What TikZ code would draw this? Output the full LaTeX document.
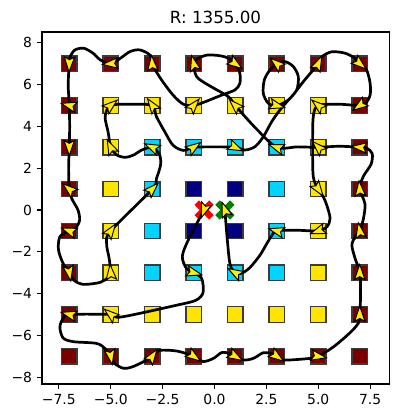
\documentclass[tikz,border=0pt]{standalone}
\usepackage{fontspec}
\setmainfont{DejaVu Sans}
\definecolor{dred}{RGB}{122,0,0}
\definecolor{syel}{RGB}{255,228,0}
\definecolor{scyan}{RGB}{0,212,255}
\definecolor{snavy}{RGB}{0,0,128}
\definecolor{sedge}{RGB}{60,60,60}
\definecolor{ayel}{RGB}{255,238,0}
\definecolor{xred}{RGB}{255,0,0}
\definecolor{xgreen}{RGB}{0,128,0}
\newcommand\yhead[3]{\begin{scope}[shift={(#1,#2)},rotate=#3]\filldraw[headst] (0.4,0) -- (-0.33,0.25) -- (-0.19,0) -- (-0.33,-0.25) -- cycle;\end{scope}}
\newcommand\xmk[3]{\begin{scope}[shift={(#1,#2)},rotate=45]\fill[#3] (-0.5,-0.15) rectangle (0.5,0.15);\fill[#3] (-0.15,-0.5) rectangle (0.15,0.5);\end{scope}}
\begin{document}
\begin{tikzpicture}[x=20.75pt,y=20.9pt,
  sq/.style={rectangle,draw=sedge,line width=1.2pt,minimum size=15.5pt,inner sep=0pt},
  traj/.style={line width=2.7pt,line join=round,line cap=round,black},
  headst/.style={fill=ayel,draw=black,line width=0.95pt,line join=miter},
  axtick/.style={line width=1.1pt},
  lbl/.style={inner sep=0pt,font=\fontsize{13.9}{16}\selectfont}]
\useasboundingbox (-10.3373,-10.0) rectangle (8.8916,10.0478);
% squares
\foreach \x in {-7,-5,...,7}{
  \foreach \y in {-7,-5,...,7}{
    \pgfmathtruncatemacro\r{max(abs(\x),abs(\y))}
    \ifnum\r=7 \def\c{dred}\fi
    \ifnum\r=5 \def\c{syel}\fi
    \ifnum\r=3 \def\c{scyan}\fi
    \ifnum\r=1 \def\c{snavy}\fi
    \node[sq,fill=\c] (q\x\y) at (\x,\y) {};
  }
}
% start / end markers
\xmk{-0.5}{0}{xred}
\xmk{0.5}{0}{xgreen}
\coordinate (start) at (-0.5,0);
\coordinate (goal) at (0.5,0);
% trajectory
\draw[traj] plot[smooth,tension=0.5] coordinates {
(-0.5,0) (-1.2,-1.3) (-1.55,-2.2) (-1.35,-2.8) (-1,-3)
(-0.62,-3.27) (-0.55,-3.95) (-0.9,-4.32) (-1.8,-4.55) (-4.5,-5.12) (-5,-5)
(-7,-5) (-7.3,-5.2) (-7.45,-5.6) (-7.3,-6.12) (-6.8,-6.3) (-5.7,-6.38) (-5.28,-6.62) (-5,-7)
(-4.8,-7.35) (-4.4,-7.57) (-4.0,-7.52) (-3.4,-7.25) (-3,-7)
(-2.65,-6.72) (-1.8,-6.75) (-1,-7)
(-0.55,-7.25) (-0.05,-7.1) (0.35,-6.82) (0.75,-6.87) (1,-7)
(1.4,-7.18) (1.87,-7.1) (2.35,-6.83) (2.75,-6.87) (3,-7)
(3.35,-7.18) (4.6,-7.1) (5,-7)
(5.73,-6.55) (6.5,-5.9) (6.93,-5.42) (7,-5)
(7.04,-4) (7,-3)
(6.77,-2.3) (6.62,-1.68) (6.78,-1.28) (7,-1)
(7.18,-0.4) (7.25,0.3) (7,1)
(7.17,1.6) (7.55,2.2) (7.6,2.7) (7.35,2.95) (7,3)
(6,3.05) (5,3) (4,3.02) (3,3)
(2,3.9) (1,5) (0.67,5.42) (-0.3,5.98) (-0.86,6.38) (-1,7)
(-0.78,7.25) (-0.3,7.42) (0.5,7.33) (1,7)
(1.22,6.55) (1.22,6.05) (0.98,5.74) (0.35,5.5) (-0.45,5.18) (-1,5)
(-1.5,5.06) (-2,5.5) (-2.55,6.22) (-2.9,6.78) (-3,7)
(-3.12,7.42) (-3.6,7.66) (-4.07,7.58) (-4.55,7.25) (-5,7)
(-5.5,7.18) (-5.85,7.5) (-6.3,7.74) (-6.72,7.66) (-6.95,7.35) (-7,7)
(-7.05,6) (-7,5) (-6.98,4) (-7,3) (-7.03,2) (-7,1)
(-6.88,0.55) (-6.58,0) (-6.5,-0.48) (-6.68,-0.85) (-7,-1)
(-7.45,-1.28) (-7.52,-1.9) (-7.3,-2.55) (-7,-3)
(-6.75,-3.38) (-6.3,-3.56) (-5.5,-3.46) (-5.12,-3.22) (-5,-3)
(-5.08,-2.3) (-5.2,-1.6) (-5,-1)
(-3,1)
(-2.8,1.5) (-2.6,2.15) (-2.65,2.65) (-3,3)
(-3.5,2.87) (-3.9,2.63) (-4.3,2.52) (-4.7,2.63) (-5,3)
(-5.12,3.7) (-5.27,4.47) (-5,5)
(-4,5.06) (-3,5)
(-2.8,4.47) (-2.4,3.75) (-2,3.1) (-1.5,2.85) (-1,3)
(0,3.02) (1,3)
(1.47,2.87) (1.95,3.03) (2.35,3.5) (2.76,4.23) (3.15,4.78) (3.56,5.26) (3.96,5.74) (4.04,6.38) (3.8,6.86) (3.4,7.1) (3,7)
(2.67,6.7) (2.4,6.22) (2.35,5.58) (2.59,5.11) (3,5)
(3.6,5.3) (4.28,6.14) (5,7)
(5.17,7.33) (5.65,7.57) (6.3,7.5) (6.77,7.26) (7,7)
(7.33,6.7) (7.5,6.06) (7.5,5.5) (7.3,5.13) (7,5)
(6,5.06) (5,5)
(4.76,4.47) (4.73,3.03) (4.76,1.59) (5,1)
(5.25,0.62) (5.42,0.2) (5.57,-0.4) (5.42,-0.8) (5,-1)
(4,-0.97) (3,-1)
(2.67,-1.36) (2.2,-2.15) (1.7,-2.76) (1.3,-3.03) (1,-3)
(0.75,-2.6) (0.62,-1.45) (0.5,0)
};
% heading arrows
\yhead{-0.5}{0}{-110}
\yhead{-1}{-3}{-15}
\yhead{-5}{-5}{140}
\yhead{-7}{-5}{165}
\yhead{-5}{-7}{-80}
\yhead{-3}{-7}{55}
\yhead{-1}{-7}{-35}
\yhead{1}{-7}{-30}
\yhead{3}{-7}{-35}
\yhead{5}{-7}{-10}
\yhead{7}{-5}{90}
\yhead{7}{-3}{90}
\yhead{7}{-1}{100}
\yhead{7}{1}{95}
\yhead{7}{3}{175}
\yhead{5}{3}{135}
\yhead{3}{3}{160}
\yhead{1}{5}{135}
\yhead{-1}{7}{105}
\yhead{1}{7}{-35}
\yhead{-1}{5}{50}
\yhead{-3}{7}{95}
\yhead{-5}{7}{185}
\yhead{-7}{7}{-92}
\yhead{-7}{5}{165}
\yhead{-7}{3}{-90}
\yhead{-7}{1}{140}
\yhead{-7}{-1}{160}
\yhead{-7}{-3}{-80}
\yhead{-5}{-3}{95}
\yhead{-5}{-1}{55}
\yhead{-3}{1}{45}
\yhead{-3}{3}{155}
\yhead{-5}{3}{115}
\yhead{-5}{5}{40}
\yhead{-3}{5}{125}
\yhead{-1}{3}{35}
\yhead{1}{3}{-25}
\yhead{3}{5}{-15}
\yhead{3}{7}{140}
\yhead{5}{7}{65}
\yhead{7}{7}{-40}
\yhead{7}{5}{215}
\yhead{5}{5}{140}
\yhead{5}{1}{-55}
\yhead{5}{-1}{200}
\yhead{3}{-1}{165}
\yhead{1}{-3}{150}
\yhead{0.5}{0}{110}
% axes frame
\draw[line width=1.1pt] (-8.313,-8.325) rectangle (8.424,8.517);
\foreach \v/\t [count=\i] in {-8/−8,-6/−6,-4/−4,-2/−2,0/0,2/2,4/4,6/6,8/8}{
  \draw[axtick] (-8.313,\v) -- (-8.547,\v);
  \node[lbl,anchor=east] (yt\i) at (-8.781,\v) {\t};
}
\foreach \v/\t [count=\i] in {-7.5/−7.5,-5/−5.0,-2.5/−2.5,0/0.0,2.5/2.5,5/5.0,7.5/7.5}{
  \draw[axtick] (\v,-8.325) -- (\v,-8.558);
  \node[lbl,anchor=north] (xt\i) at (\v,-8.79) {\t};
}
\node[inner sep=0pt,anchor=base,font=\fontsize{16.7}{20}\selectfont] (title) at (0.05,8.933) {R: 1355.00};
\end{tikzpicture}
\end{document}
